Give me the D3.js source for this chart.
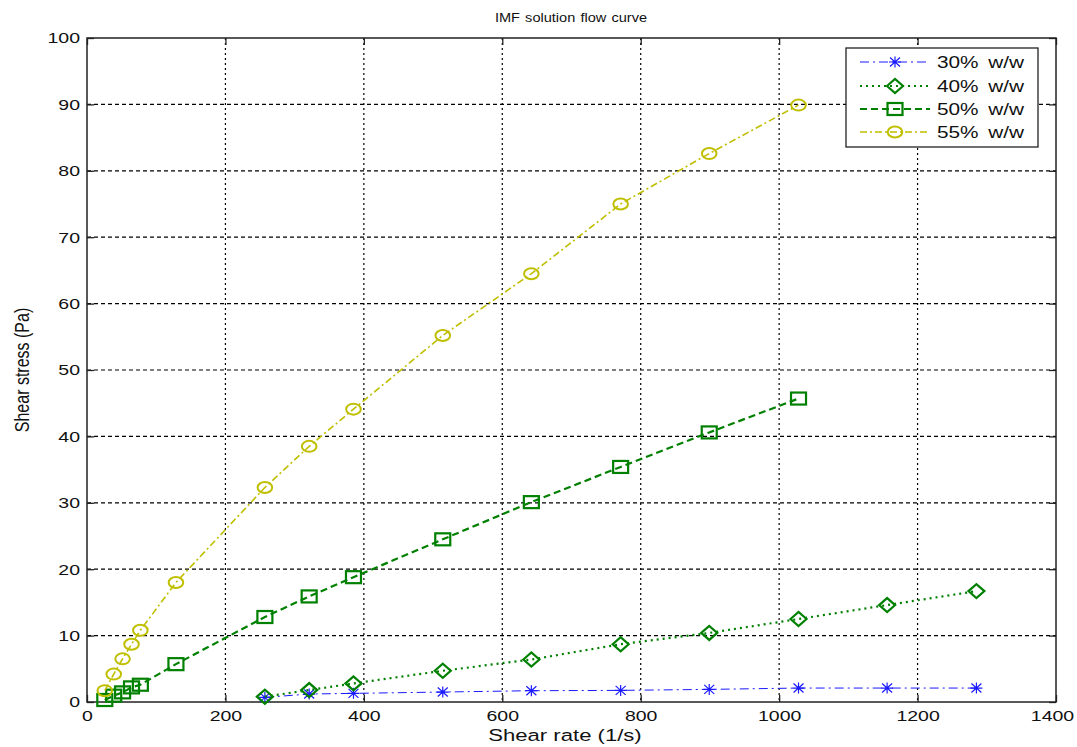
<!DOCTYPE html>
<html><head><meta charset="utf-8">
<script src="https://cdn.jsdelivr.net/npm/d3@7"></script>
<style>body{margin:0;background:#fff}svg{display:block}text{font-family:"Liberation Sans",Arial,sans-serif;fill:#111}</style>
</head><body><svg id="c" width="1077" height="747"></svg>
<script>
const shearRateLow = [25.7, 38.6, 51.4, 64.3, 77.1, 128.5];
const shearRateHigh = [257, 321, 385, 514, 642, 771, 899, 1028, 1156, 1285];
const stress30 = [0.7, 1.2, 1.3, 1.5, 1.7, 1.75, 1.9, 2.1, 2.1, 2.1];
const stress40 = [0.8, 1.8, 2.8, 4.7, 6.4, 8.7, 10.4, 12.5, 14.6, 16.7];
const stress50 = [0.3, 0.95, 1.45, 2.2, 2.6, 5.7, 12.8, 15.9, 18.8, 24.5, 30.1, 35.4, 40.6, 45.7];
const stress55 = [1.7, 4.2, 6.5, 8.7, 10.8, 18.0, 32.3, 38.5, 44.1, 55.2, 64.5, 75.0, 82.6, 89.9];
const seriesNames = ["30% w/w", "40% w/w", "50% w/w", "55% w/w"];
const xTicks = [0, 200, 400, 600, 800, 1000, 1200, 1400];
const yTicks = [0, 10, 20, 30, 40, 50, 60, 70, 80, 90, 100];

const SX = 1.3; // horizontal stretch of text in the reference picture
const xsAll = shearRateLow.concat(shearRateHigh.slice(0, 8));
const series = [
  {name: seriesNames[0], x: shearRateHigh, y: stress30, color: "#1a1aff", width: 1, dash: "9,4,2,4", marker: "star"},
  {name: seriesNames[1], x: shearRateHigh, y: stress40, color: "#008000", width: 2.2, dash: "2,4", marker: "diamond"},
  {name: seriesNames[2], x: xsAll, y: stress50, color: "#008000", width: 2.2, dash: "7,4", marker: "square"},
  {name: seriesNames[3], x: xsAll, y: stress55, color: "#bfbf00", width: 1.6, dash: "7,3,2,3", marker: "circle"}
];

const svg = d3.select("#c");
const L = 87, R = 1056, T = 38, B = 702;
const x = d3.scaleLinear().domain([0, 1400]).range([L, R]);
const y = d3.scaleLinear().domain([0, 100]).range([B, T]);

// grid
const g = svg.append("g");
g.selectAll(".gx").data(xTicks.slice(1, -1)).join("line")
  .attr("x1", d => x(d)).attr("x2", d => x(d)).attr("y1", T).attr("y2", B)
  .attr("stroke", "#000").attr("stroke-width", 1.2).attr("stroke-dasharray", "2,3");
g.selectAll(".gy").data(yTicks.slice(1, -1)).join("line")
  .attr("y1", d => y(d)).attr("y2", d => y(d)).attr("x1", L).attr("x2", R)
  .attr("stroke", "#000").attr("stroke-width", 1.2).attr("stroke-dasharray", "4,3");

// axes
const ax = d3.axisBottom(x).tickValues(xTicks).tickSize(-7).tickPadding(8).tickFormat(d3.format("d"));
const ay = d3.axisLeft(y).tickValues(yTicks).tickSize(-7).tickPadding(7).tickFormat(d3.format("d"));
const axT = d3.axisTop(x).tickValues(xTicks).tickSize(-7).tickFormat("");
const ayR = d3.axisRight(y).tickValues(yTicks).tickSize(-7).tickFormat("");
function style(sel){
  sel.select(".domain").remove();
  sel.selectAll("line").attr("stroke","#222").attr("stroke-width",1.3);
  sel.selectAll("text").attr("font-size",15).attr("fill","#111").attr("font-family","Liberation Sans, Arial, sans-serif")
    .each(function(d){
      const t = d3.select(this);
      const xv = +t.attr("x") || 0;
      const shift = (d === 1400) ? -4 : 0;
      t.attr("x", (xv + shift) / SX).attr("transform", `scale(${SX},1)`);
    });
}
svg.append("g").attr("transform", `translate(0,${B})`).call(ax).call(style);
svg.append("g").attr("transform", `translate(${L},0)`).call(ay).call(style);
svg.append("g").attr("transform", `translate(0,${T})`).call(axT).call(style);
svg.append("g").attr("transform", `translate(${R},0)`).call(ayR).call(style);
svg.append("rect").attr("x", L).attr("y", T).attr("width", R - L).attr("height", B - T)
  .attr("fill", "none").attr("stroke", "#222").attr("stroke-width", 1.5);

// markers
function drawMarker(sel, type, color) {
  if (type === "star") {
    sel.append("path").attr("d", "M-6,0H6M0,-5.5V5.5M-5,-4.5L5,4.5M-5,4.5L5,-4.5")
      .attr("stroke", color).attr("stroke-width", 1.2).attr("fill", "none");
  } else if (type === "diamond") {
    sel.append("path").attr("d", "M-8,0L0,-7L8,0L0,7Z")
      .attr("stroke", color).attr("stroke-width", 2.2).attr("fill", "none");
  } else if (type === "square") {
    sel.append("rect").attr("x", -7.5).attr("y", -6).attr("width", 15).attr("height", 12)
      .attr("stroke", color).attr("stroke-width", 2.2).attr("fill", "none");
  } else if (type === "circle") {
    sel.append("ellipse").attr("rx", 7.3).attr("ry", 5.5)
      .attr("stroke", color).attr("stroke-width", 2).attr("fill", "none");
  }
}

const line = d3.line().x(d => x(d[0])).y(d => y(d[1]));
series.forEach(s => {
  const pts = s.x.map((v, i) => [v, s.y[i]]);
  svg.append("path").datum(pts).attr("d", line).attr("fill", "none")
    .attr("stroke", s.color).attr("stroke-width", s.width).attr("stroke-dasharray", s.dash);
  svg.append("g").selectAll("g").data(pts).join("g")
    .attr("transform", d => `translate(${x(d[0])},${y(d[1])})`)
    .each(function(){ drawMarker(d3.select(this), s.marker, s.color); });
});

// title and labels
svg.append("text").attr("transform", `translate(571,22) scale(1.12,1)`).attr("text-anchor", "middle")
  .attr("font-size", 13).attr("word-spacing", "1px").text("IMF solution flow curve");
svg.append("text").attr("transform", `translate(565,741) scale(${SX},1)`).attr("text-anchor", "middle")
  .attr("font-size", 17).text("Shear rate (1/s)");
svg.append("text").attr("transform", `translate(29,370) scale(${SX},1) rotate(-90)`).attr("text-anchor", "middle")
  .attr("font-size", 16).text("Shear stress (Pa)");

// legend
const lg = svg.append("g");
lg.append("rect").attr("x", 846).attr("y", 48).attr("width", 192).attr("height", 99)
  .attr("fill", "#fff").attr("stroke", "#222").attr("stroke-width", 1.3);
const ly = [62, 86, 109, 132];
series.forEach((s, i) => {
  lg.append("line").attr("x1", 860).attr("x2", 930).attr("y1", ly[i]).attr("y2", ly[i])
    .attr("stroke", s.color).attr("stroke-width", s.width).attr("stroke-dasharray", s.dash);
  const m = lg.append("g").attr("transform", `translate(895,${ly[i]})`);
  drawMarker(m, s.marker, s.color);
  lg.append("text").attr("transform", `translate(937,${ly[i]}) scale(${SX},1)`).attr("dy", "0.36em").attr("font-size", 16)
    .attr("word-spacing", "3px").text(s.name);
});
</script></body></html>
